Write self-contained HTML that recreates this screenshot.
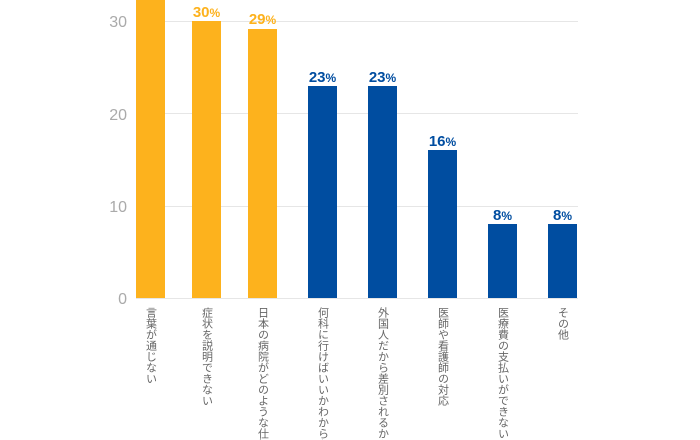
<!DOCTYPE html><html><head><meta charset="utf-8"><style>html,body{margin:0;background:#fff;overflow:hidden;width:700px;height:440px}</style></head><body>
<svg width="700" height="440" xmlns="http://www.w3.org/2000/svg" font-family="Liberation Sans, Noto Sans CJK JP, sans-serif" style="display:block;overflow:hidden">
<g stroke="#e6e6e6" stroke-width="1">
<line x1="136" y1="21.5" x2="578" y2="21.5"/><line x1="136" y1="113.5" x2="578" y2="113.5"/><line x1="136" y1="206.5" x2="578" y2="206.5"/><line x1="136" y1="298.5" x2="578" y2="298.5"/>
</g>
<g fill="#aaa" font-size="16" text-anchor="end">
<text x="127" y="27">30</text><text x="127" y="120">20</text><text x="127" y="212">10</text><text x="127" y="304">0</text>
</g>
<g fill="#fdb21d">
<rect x="136" y="0" width="29" height="298"/><rect x="192" y="21" width="29" height="277"/><rect x="248" y="29" width="29" height="269"/>
</g>
<g fill="#004da0">
<rect x="308" y="86" width="29" height="212"/><rect x="368" y="86" width="29" height="212"/><rect x="428" y="150" width="29" height="148"/><rect x="488" y="224" width="29" height="74"/><rect x="548" y="224" width="29" height="74"/>
</g>
<g font-size="15" font-weight="bold" text-anchor="middle">
<text x="206.5" y="17" fill="#fdb21d">30<tspan font-size="12">%</tspan></text>
<text x="262.5" y="24" fill="#fdb21d">29<tspan font-size="12">%</tspan></text>
<g fill="#004da0">
<text x="322.5" y="82">23<tspan font-size="12">%</tspan></text>
<text x="382.5" y="82">23<tspan font-size="12">%</tspan></text>
<text x="442.5" y="146">16<tspan font-size="12">%</tspan></text>
<text x="502.5" y="220">8<tspan font-size="12">%</tspan></text>
<text x="562.5" y="220">8<tspan font-size="12">%</tspan></text>
</g></g>
<g fill="#666" font-size="11" style="writing-mode:vertical-rl" letter-spacing="0">
<text x="150.5" y="307">言葉が通じない</text>
<text x="206.5" y="307">症状を説明できない</text>
<text x="262.5" y="307">日本の病院がどのような仕組</text>
<text x="322.5" y="307">何科に行けばいいかわからな</text>
<text x="382.5" y="307">外国人だから差別されるかも</text>
<text x="442.5" y="307">医師や看護師の対応</text>
<text x="502.5" y="307">医療費の支払いができない</text>
<text x="562.5" y="307">その他</text>
</g>
</svg></body></html>
